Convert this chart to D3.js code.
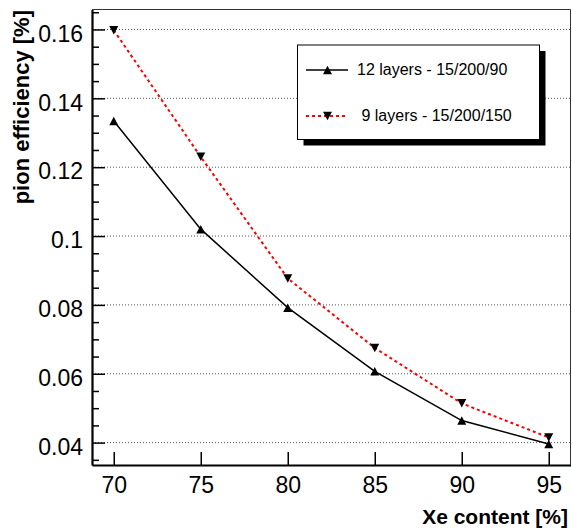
<!DOCTYPE html>
<html><head><meta charset="utf-8">
<script src="https://cdn.jsdelivr.net/npm/d3@7"></script>
<style>
body{margin:0;background:#fff}
text{font-family:"Liberation Sans",Arial,Helvetica,sans-serif}
</style>
</head><body>
<svg id="c" width="572" height="529"></svg>
<script>
const xeContent = [70, 75, 80, 85, 90, 95];
const eff12 = [0.1334, 0.1020, 0.0792, 0.0607, 0.0464, 0.0396];
const eff9  = [0.1598, 0.1230, 0.0877, 0.0675, 0.0514, 0.0415];
const seriesNames = ["12 layers - 15/200/90", " 9 layers - 15/200/150"];
const xTicks = [70, 75, 80, 85, 90, 95];
const yTicks = [0.04, 0.06, 0.08, 0.1, 0.12, 0.14, 0.16];
const yMinorTicks = [0.035,0.045,0.05,0.055,0.065,0.07,0.075,0.085,0.09,0.095,0.105,0.11,0.115,0.125,0.13,0.135,0.145,0.15,0.155,0.165];
const xTitle = "Xe content [%]";
const yTitle = "pion efficiency [%]";

const svg = d3.select("#c");
const L = 92, R = 570.5, T = 9.5, B = 465;
const x = d3.scaleLinear([68.75, 96.25], [L, R]);
const y = d3.scaleLinear([0.0335, 0.1658], [B, T]);

// grid
svg.append("g").selectAll("line").data(yTicks).join("line")
  .attr("x1", L).attr("x2", R)
  .attr("y1", d => y(d)).attr("y2", d => y(d))
  .attr("stroke", "#555").attr("stroke-width", 1).attr("stroke-dasharray", "1,2");

// frame top/right
svg.append("path").attr("d", `M${L},${T}H${R}V${B}`).attr("fill", "none")
  .attr("stroke", "#333").attr("stroke-width", 1);

// y axis major
const yAx = svg.append("g").attr("transform", `translate(${L},0)`)
  .call(d3.axisLeft(y).tickValues(yTicks).tickSizeInner(-13).tickSizeOuter(0).tickPadding(9)
    .tickFormat(d => d === 0.1 ? "0.1" : d3.format(".2f")(d)));
yAx.selectAll("text").attr("font-size", 23).attr("dy", "0.51em").attr("fill", "#000");
yAx.selectAll(".tick line").attr("stroke", "#000").attr("stroke-width", 1.5);
yAx.select(".domain").attr("stroke", "#000").attr("stroke-width", 2.2);
// y minor
const yMin = svg.append("g").attr("transform", `translate(${L},0)`)
  .call(d3.axisLeft(y).tickValues(yMinorTicks).tickSizeInner(-7).tickSizeOuter(0).tickFormat(""));
yMin.select(".domain").remove();
yMin.selectAll(".tick line").attr("stroke", "#000").attr("stroke-width", 1.5);

// x axis
const xAx = svg.append("g").attr("transform", `translate(0,${B})`)
  .call(d3.axisBottom(x).tickValues(xTicks).tickSizeInner(-13).tickSizeOuter(0).tickPadding(12));
xAx.selectAll("text").attr("font-size", 23).attr("dy", "0.71em").attr("fill", "#000");
xAx.selectAll(".tick line").attr("stroke", "#000").attr("stroke-width", 1.5);
xAx.select(".domain").attr("stroke", "#000").attr("stroke-width", 2.2);

// titles
svg.append("text").attr("transform", `translate(568,524)`).attr("text-anchor", "end")
  .attr("font-size", 21).attr("font-weight", "bold").text(xTitle);
svg.append("text").attr("transform", `translate(29,10) rotate(-90)`).attr("text-anchor", "end")
  .attr("font-size", 22).attr("font-weight", "bold").text(yTitle);

// lines
const line = d3.line().x(d => x(d[0])).y(d => y(d[1]));
const d12 = xeContent.map((v, i) => [v, eff12[i]]);
const d9 = xeContent.map((v, i) => [v, eff9[i]]);
svg.append("path").datum(d9).attr("d", line).attr("fill", "none")
  .attr("stroke", "#ff0000").attr("stroke-width", 2).attr("stroke-dasharray", "3,3");
svg.append("path").datum(d12).attr("d", line).attr("fill", "none")
  .attr("stroke", "#000").attr("stroke-width", 1.5);

const W = 9, H = 8.5;
const triUp = (cx, cy) => `M${cx},${cy - H/2}L${cx + W/2},${cy + H/2}L${cx - W/2},${cy + H/2}Z`;
const triDown = (cx, cy) => `M${cx},${cy + H/2}L${cx + W/2},${cy - H/2}L${cx - W/2},${cy - H/2}Z`;
svg.append("g").selectAll("path").data(d9).join("path")
  .attr("d", d => triDown(x(d[0]), y(d[1]))).attr("fill", "#000");
svg.append("g").selectAll("path").data(d12).join("path")
  .attr("d", d => triUp(x(d[0]), y(d[1]))).attr("fill", "#000");

// legend
const lx = 297.5, ly = 45, lw = 242, lh = 94.5;
svg.append("rect").attr("x", lx + 6).attr("y", ly + 6).attr("width", lw).attr("height", lh).attr("fill", "#000");
svg.append("rect").attr("x", lx).attr("y", ly).attr("width", lw).attr("height", lh)
  .attr("fill", "#fff").attr("stroke", "#000").attr("stroke-width", 1);
const entries = [
  {name: seriesNames[0], color: "#000", dash: null, sw: 1.5, tri: triUp, cy: 70},
  {name: seriesNames[1], color: "#ff0000", dash: "3,3", sw: 2, tri: triDown, cy: 116}
];
entries.forEach(e => {
  svg.append("line").attr("x1", 306).attr("x2", 348).attr("y1", e.cy).attr("y2", e.cy)
    .attr("stroke", e.color).attr("stroke-width", e.sw).attr("stroke-dasharray", e.dash);
  svg.append("path").attr("d", e.tri(327.5, e.cy)).attr("fill", "#000");
  svg.append("text").attr("x", 357).attr("y", e.cy + 5).attr("font-size", 16)
    .style("white-space", "pre").text(e.name);
});
</script>
</body></html>
